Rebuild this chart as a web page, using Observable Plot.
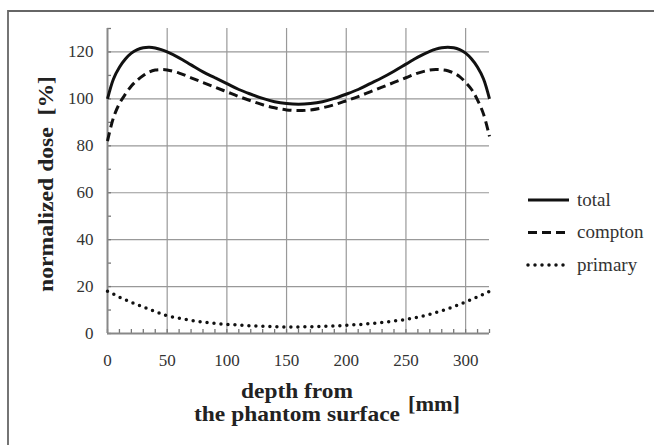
<!DOCTYPE html>
<html>
<head>
<meta charset="utf-8">
<script src="https://cdn.jsdelivr.net/npm/d3@7"></script>
<script src="https://cdn.jsdelivr.net/npm/@observablehq/plot@0.6"></script>
<style>
  html, body { margin: 0; padding: 0; background: #fff; }
  #chart { width: 655px; height: 445px; }
</style>
</head>
<body>
<div id="chart"></div>
<script>
// depth from the phantom surface [mm]
const depth = [0, 5, 10, 15, 20, 25, 30, 35, 40, 45, 50, 60, 70, 80, 90, 100, 110, 120, 130, 140, 150, 160,
  170, 180, 190, 200, 210, 220, 230, 240, 250, 260, 270, 275, 280, 285, 290, 295, 300, 305, 310, 315, 320];
// normalized dose [%]
const total = [100, 108.5, 113.5, 117, 119.5, 121, 121.8, 122, 121.7, 121, 120, 117.5, 114.5, 111.5, 109, 106.5, 104, 102, 100.2, 98.8, 98, 97.7,
  98, 98.8, 100.2, 102, 104, 106.5, 109, 111.8, 114.8, 117.8, 120.3, 121.2, 121.8, 122, 121.8, 121, 119.5, 117, 113.5, 108.5, 100];
const compton = [82, 92, 98, 102, 105.5, 108, 110, 111.5, 112.3, 112.5, 112.3, 111, 109, 107, 105, 103, 101, 99.2, 97.5, 96.2, 95.3, 95,
  95.3, 96.2, 97.5, 99.2, 101, 103, 105, 107, 109, 111, 112.3, 112.5, 112.4, 112, 111, 109.5, 107, 104, 99.5, 93.5, 84];
const primary = [18, 16.8, 15.5, 14.4, 13.3, 12.3, 11.3, 10.3, 9.3, 8.4, 7.6, 6.5, 5.6, 4.9, 4.3, 3.9, 3.6, 3.3, 3.1, 2.9, 2.8, 2.8,
  2.9, 3.0, 3.2, 3.5, 3.8, 4.2, 4.7, 5.3, 6.0, 7.0, 8.2, 8.9, 9.7, 10.5, 11.4, 12.4, 13.4, 14.5, 15.6, 16.8, 18];

const seriesNames = ["total", "compton", "primary"];
const seriesValues = [total, compton, primary];
const dashes = [null, "9,5", "0,7"];

const xTicks = [0, 50, 100, 150, 200, 250, 300];
const yTicks = [0, 20, 40, 60, 80, 100, 120];
const xMinor = d3.range(0, 321, 10);
const yMinor = d3.range(0, 131, 10);

const rows = [];
seriesNames.forEach((s, i) => depth.forEach((d, j) => rows.push({series: s, depth: d, dose: seriesValues[i][j]})));

const font = "'Liberation Serif', 'Times New Roman', serif";

const lineMarks = seriesNames.map((s, i) => Plot.line(rows.filter(r => r.series === s), {
  x: "depth", y: "dose", curve: "catmull-rom",
  stroke: "#111", strokeWidth: i === 2 ? 3.5 : 3,
  strokeDasharray: dashes[i] || undefined,
  strokeLinecap: i === 2 ? "round" : "butt"
}));

const chart = Plot.plot({
  width: 655,
  height: 445,
  marginLeft: 107,
  marginRight: 166,
  marginTop: 28,
  marginBottom: 112,
  style: {fontFamily: font, background: "#fff", color: "#333", overflow: "visible"},
  x: {domain: [0, 320]},
  y: {domain: [0, 130]},
  marks: [
    Plot.gridX({ticks: xTicks.filter(t => t > 0), stroke: "#999", strokeOpacity: 1, strokeWidth: 1.2}),
    Plot.gridY({ticks: yTicks.filter(t => t > 0), stroke: "#999", strokeOpacity: 1, strokeWidth: 1.2}),
    Plot.axisX({ticks: xMinor, tickSize: -4, tickFormat: () => "", label: null, stroke: "#777", strokeWidth: 1.3}),
    Plot.axisY({ticks: yMinor, tickSize: -4, tickFormat: () => "", label: null, stroke: "#777", strokeWidth: 1.3}),
    Plot.axisX({ticks: xTicks, tickSize: 0, tickPadding: 20, fontSize: 17, label: null, fill: "#333"}),
    Plot.axisY({ticks: yTicks, tickSize: 0, tickPadding: 14, fontSize: 17, label: null, fill: "#333"}),
    Plot.ruleX([0], {stroke: "#888", strokeWidth: 2}),
    Plot.ruleY([0], {stroke: "#888", strokeWidth: 2}),
    ...lineMarks
  ]
});

document.getElementById("chart").appendChild(chart);

const svg = d3.select(chart);
// outer frame (top and left edges)
svg.append("path").attr("d", "M8,445V11H654").attr("fill", "none").attr("stroke", "#666").attr("stroke-width", 1.8);

// y title
svg.append("text")
  .attr("transform", "translate(53,184) rotate(-90)")
  .attr("text-anchor", "middle")
  .attr("font-family", font).attr("font-weight", "bold").attr("font-size", 21)
  .attr("fill", "#222")
  .attr("textLength", 216).attr("lengthAdjust", "spacingAndGlyphs")
  .text("normalized dose  [%]");

// x title
svg.append("text").attr("x", 297).attr("y", 398).attr("text-anchor", "middle")
  .attr("font-family", font).attr("font-weight", "bold").attr("font-size", 22).attr("fill", "#222")
  .attr("textLength", 112).attr("lengthAdjust", "spacingAndGlyphs")
  .text("depth from");
svg.append("text").attr("x", 297).attr("y", 421).attr("text-anchor", "middle")
  .attr("font-family", font).attr("font-weight", "bold").attr("font-size", 22).attr("fill", "#222")
  .attr("textLength", 206).attr("lengthAdjust", "spacingAndGlyphs")
  .text("the phantom surface");
svg.append("text").attr("x", 408).attr("y", 411).attr("text-anchor", "start")
  .attr("font-family", font).attr("font-weight", "bold").attr("font-size", 21).attr("fill", "#222")
  .attr("textLength", 52).attr("lengthAdjust", "spacingAndGlyphs")
  .text("[mm]");

// legend
const leg = svg.append("g").attr("text-anchor", "start");
seriesNames.forEach((s, i) => {
  const y = 200 + i * 32.5;
  leg.append("line").attr("x1", 528).attr("x2", 569).attr("y1", y).attr("y2", y)
    .attr("stroke", "#111").attr("stroke-width", i === 2 ? 3.5 : 3)
    .attr("stroke-dasharray", dashes[i])
    .attr("stroke-linecap", i === 2 ? "round" : "butt");
  leg.append("text").attr("x", 577).attr("y", y + 5.5).attr("text-anchor", "start")
    .attr("font-family", font).attr("font-size", 19).attr("fill", "#333")
    .text(s);
});
</script>
</body>
</html>
